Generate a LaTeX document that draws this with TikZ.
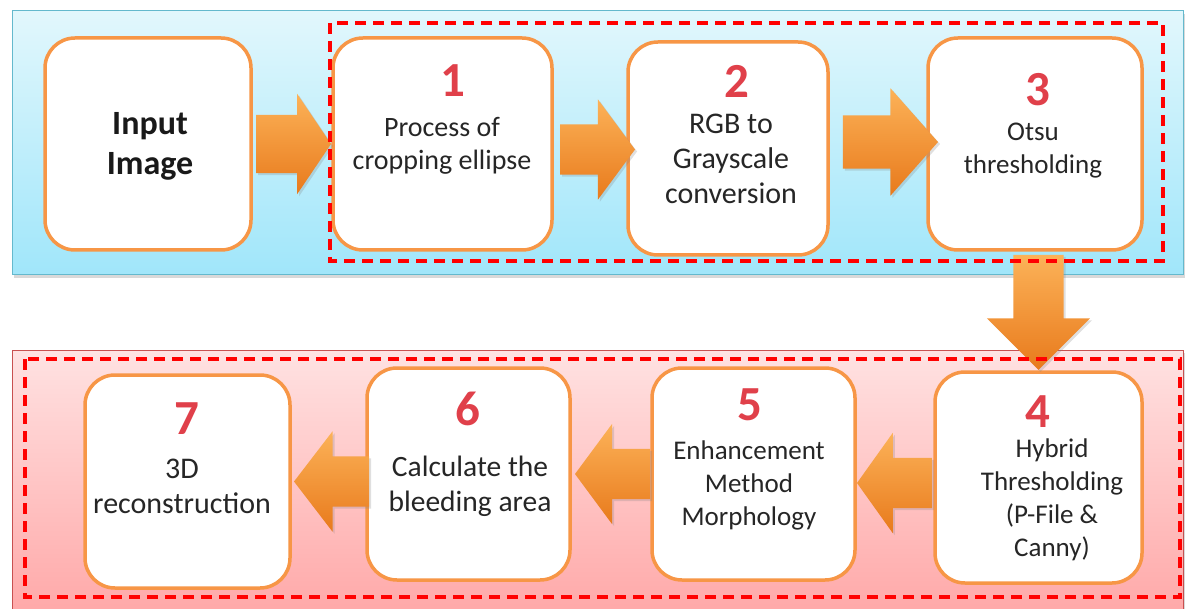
\documentclass[tikz,border=0pt]{standalone}
\usepackage{fontspec}
\setmainfont{Carlito}
\usetikzlibrary{shapes.arrows,shadows}
\definecolor{bluetop}{RGB}{226,247,252}
\definecolor{bluebot}{RGB}{160,230,250}
\definecolor{blueedge}{RGB}{100,185,205}
\definecolor{pinktop}{RGB}{255,226,226}
\definecolor{pinkbot}{RGB}{255,168,168}
\definecolor{pinkedge}{RGB}{200,80,80}
\definecolor{boxorange}{RGB}{247,150,70}
\definecolor{numred}{RGB}{224,64,74}
\definecolor{arrowlight}{RGB}{252,178,88}
\definecolor{arrowdark}{RGB}{232,122,28}
\begin{document}
\begin{tikzpicture}[x=1pt,y=-1pt,
  stepbox/.style={draw=boxorange,line width=3.5pt,fill=white,rounded corners=30pt,inner sep=0pt,minimum width=205pt,minimum height=212pt},
  steptext/.style={align=center,text=black!85,font=\fontsize{27}{33}\selectfont},
  stepnum/.style={text=numred,font=\fontsize{49}{49}\selectfont\bfseries},
  fatarrow/.style={single arrow,draw=none,inner xsep=0pt,inner ysep=25pt,minimum height=75pt,
    single arrow head extend=25pt,single arrow tip angle=108,top color=arrowlight,bottom color=arrowdark,
    drop shadow={opacity=0.25,shadow xshift=2pt,shadow yshift=-2pt}},
  reddash/.style={draw=red,line width=3.5pt,dash pattern=on 11pt off 7pt}]
\useasboundingbox (0,0) rectangle (1185,609);
% bands
\draw[blueedge,line width=1pt,top color=bluetop,bottom color=bluebot,drop shadow={opacity=0.3,shadow xshift=2pt,shadow yshift=-3pt}] (12,11) rectangle (1183,275);
\draw[pinkedge,line width=1pt,top color=pinktop,bottom color=pinkbot,drop shadow={opacity=0.3,shadow xshift=2pt,shadow yshift=-3pt}] (12,350) rectangle (1183,615);
% top row
\node[stepbox,minimum width=206pt] (b0) at (148,144) {};
\node[stepbox,minimum width=219pt] (b1) at (442.5,144) {};
\node[stepbox,minimum width=200pt,minimum height=213pt] (b2) at (728,148.5) {};
\node[stepbox,minimum width=214pt] (b3) at (1035,144) {};
\node[align=center,text=black!90,font=\fontsize{34}{40}\selectfont\bfseries] (t0) at (150,146) {Input\\Image};
\node[stepnum] (n1) at (453,81) {1};
\node[steptext,font=\fontsize{28}{33}\selectfont] (t1) at (442,146) {Process of\\cropping ellipse};
\node[stepnum] (n2) at (737,81) {2};
\node[steptext,font=\fontsize{30}{35}\selectfont] (t2) at (731,159) {RGB to\\Grayscale\\conversion};
\node[stepnum] (n3) at (1038,90) {3};
\node[steptext] (t3) at (1033,151) {Otsu\\thresholding};
% bottom row
\node[stepbox,minimum width=207pt,minimum height=211pt] (b4) at (1038.5,477.5) {};
\node[stepbox,minimum width=203pt] (b5) at (753.5,474) {};
\node[stepbox,minimum width=203pt] (b6) at (468.5,474) {};
\node[stepbox,minimum height=213pt] (b7) at (187.5,481.5) {};
\node[stepnum] (n4) at (1038,412) {4};
\node[steptext] (t4) at (1052,500) {Hybrid\\Thresholding\\(P-File \&\\Canny)};
\node[stepnum] (n5) at (750,405) {5};
\node[steptext] (t5) at (749,485) {Enhancement\\Method\\Morphology};
\node[stepnum] (n6) at (468,409) {6};
\node[steptext,font=\fontsize{29.5}{35}\selectfont] (t6) at (470,486) {Calculate the\\bleeding area};
\node[stepnum] (n7) at (187,419) {7};
\node[steptext,font=\fontsize{30}{35}\selectfont] (t7) at (182,486) {3D\\reconstruction};
% arrows
\node[fatarrow,single arrow tip angle=112,inner ysep=29pt,single arrow head extend=21pt,anchor=tip] (a1) at (b1.west) {};
\node[fatarrow,single arrow tip angle=107,anchor=tip] (a2) at ([xshift=9pt,yshift=-1pt]b2.west) {};
\node[fatarrow,minimum height=95pt,inner ysep=26.5pt,single arrow head extend=27pt,single arrow tip angle=97,anchor=tip] (a3) at ([xshift=12pt,yshift=2pt]b3.west) {};
\node[fatarrow,shape border rotate=270,inner xsep=25pt,inner ysep=0pt,minimum height=115pt,single arrow head extend=26.5pt,single arrow tip angle=90,anchor=tip] (a4) at (b4.north) {};
\node[fatarrow,shape border rotate=180,single arrow tip angle=109,anchor=tip] (a5) at ([yshift=-9pt]b5.east) {};
\node[fatarrow,shape border rotate=180,single arrow tip angle=107,anchor=tip] (a6) at ([xshift=3pt]b6.east) {};
\node[fatarrow,shape border rotate=180,single arrow tip angle=105,anchor=tip] (a7) at ([xshift=2pt]b7.east) {};
% dashed groups
\draw[reddash] (330,23) rectangle (1163,261);
\draw[reddash] (25,359) rectangle (1180,597);
\end{tikzpicture}
\end{document}
